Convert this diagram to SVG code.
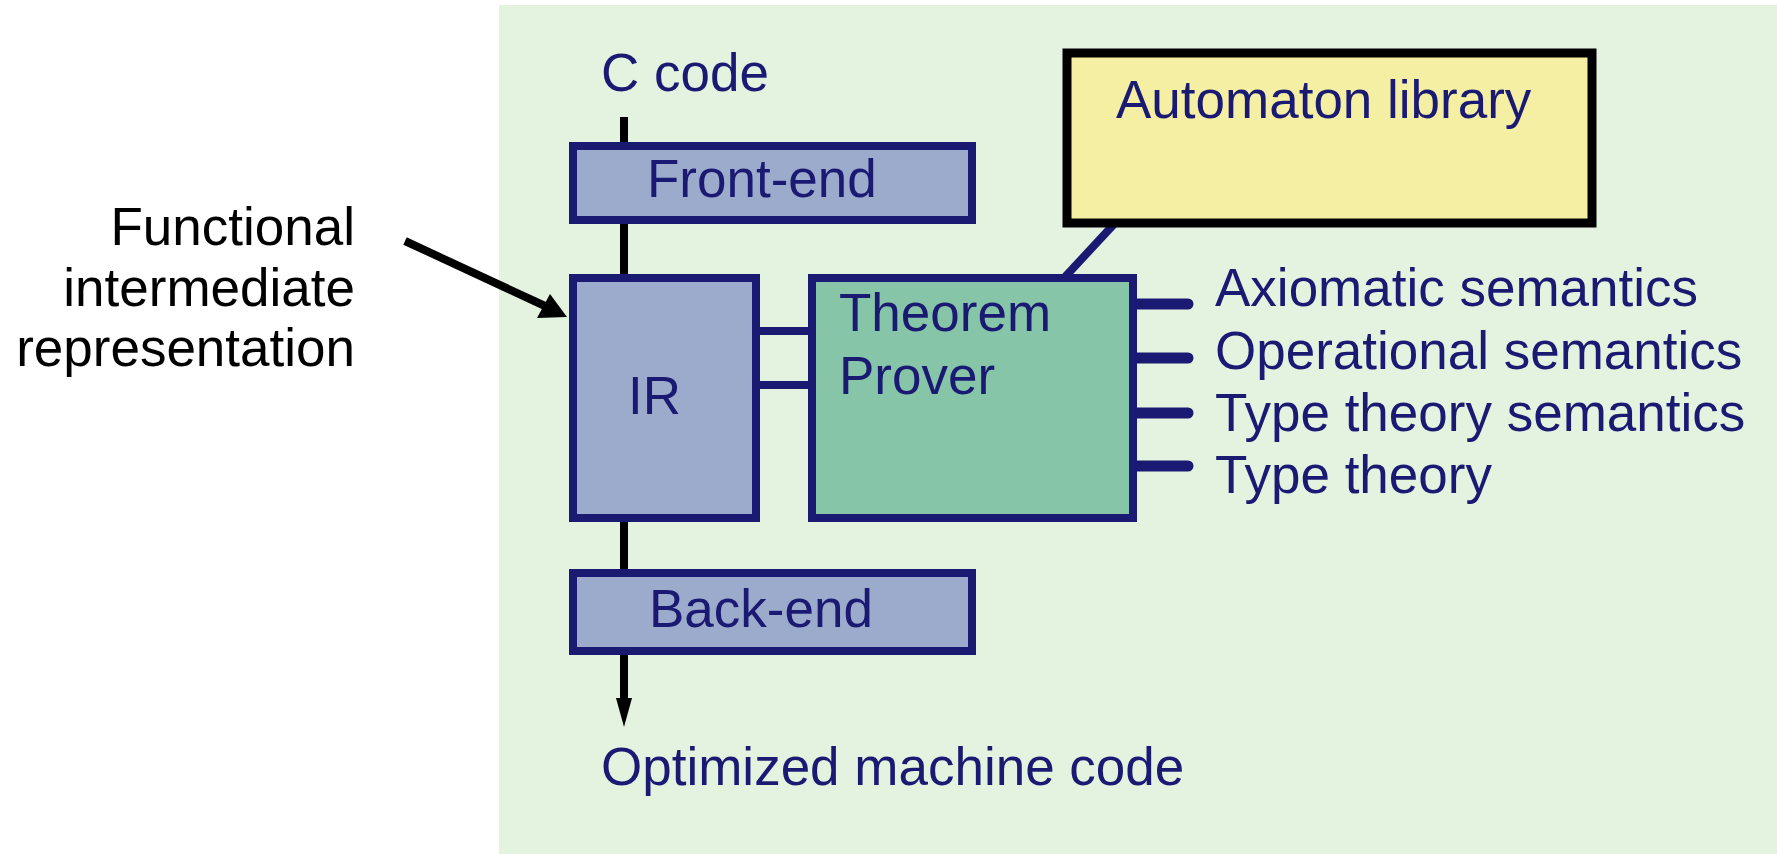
<svg xmlns="http://www.w3.org/2000/svg" width="1777" height="854" viewBox="0 0 1777 854">
<style>
text{font-family:"Liberation Sans",Arial,sans-serif;font-size:53px;fill:#1B1A73}
.blk{fill:#000}
.box{stroke:#1B1A73;stroke-width:8}
.blue{fill:#9CAACC}
.navyline{stroke:#1B1A73;stroke-width:8;fill:none}
.stub{stroke:#1B1A73;stroke-width:11;stroke-linecap:round;fill:none}
.black{stroke:#000;stroke-width:8;fill:none}
</style>
<rect x="499" y="5" width="1278" height="849" fill="#E4F3E0"/>
<g id="connectors">
<line class="black" x1="624" y1="117" x2="624" y2="700"/>
<polygon points="616,698 632,698 624,727" fill="#000"/>
<line class="black" x1="405" y1="241" x2="545" y2="306"/>
<polygon points="567,317 537,318 550,294" fill="#000"/>
<line class="navyline" x1="758" y1="331" x2="810" y2="331"/>
<line class="navyline" x1="758" y1="385" x2="810" y2="385"/>
<line class="navyline" x1="1064" y1="278" x2="1116" y2="222"/>
<line class="stub" x1="1135" y1="304" x2="1188" y2="304"/>
<line class="stub" x1="1135" y1="358" x2="1188" y2="358"/>
<line class="stub" x1="1135" y1="413" x2="1188" y2="413"/>
<line class="stub" x1="1135" y1="466" x2="1188" y2="466"/>
</g>
<g id="ccode"><text x="601" y="91">C code</text></g>
<g id="frontend">
<rect class="box blue" x="573" y="146" width="399" height="74"/>
<text x="647" y="197">Front-end</text>
</g>
<g id="funclabel">
<text class="blk" text-anchor="end" x="355" y="245">Functional</text>
<text class="blk" text-anchor="end" x="355" y="306">intermediate</text>
<text class="blk" text-anchor="end" x="355" y="366">representation</text>
</g>
<g id="ir">
<rect class="box blue" x="573" y="278" width="183" height="240"/>
<text x="628" y="414">IR</text>
</g>
<g id="prover">
<rect class="box" fill="#86C5A8" x="812" y="278" width="321" height="240"/>
<text x="839" y="331">Theorem</text>
<text x="839" y="394">Prover</text>
</g>
<g id="automaton">
<rect fill="#F5EFA3" stroke="#000" stroke-width="9" x="1067" y="53" width="525" height="170"/>
<text x="1116" y="118">Automaton library</text>
</g>
<g id="semantics">
<text x="1215" y="306">Axiomatic semantics</text>
<text x="1215" y="369">Operational semantics</text>
<text x="1215" y="431">Type theory semantics</text>
<text x="1215" y="493">Type theory</text>
</g>
<g id="backend">
<rect class="box blue" x="573" y="573" width="399" height="78"/>
<text x="649" y="627">Back-end</text>
</g>
<g id="output"><text x="601" y="785">Optimized machine code</text></g>
</svg>
